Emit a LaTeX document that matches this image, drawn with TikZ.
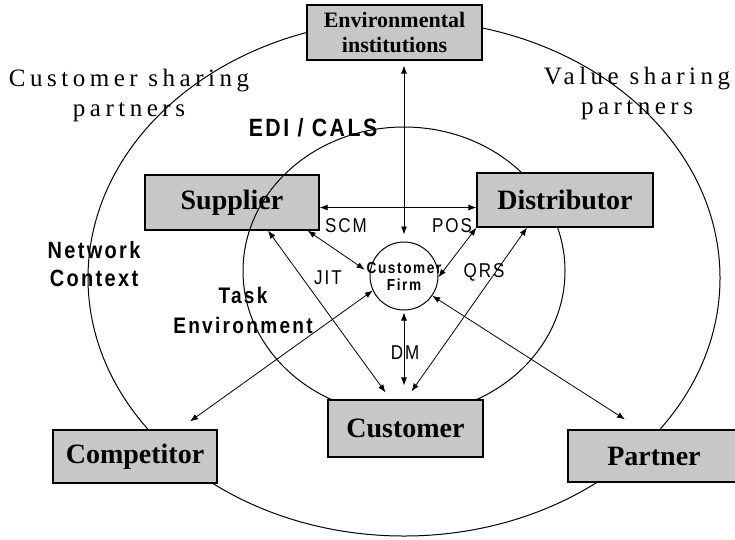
\documentclass[tikz,border=0pt]{standalone}
\usepackage{fontspec}
\setmainfont{Liberation Serif}
\newfontfamily\narrowfont[FakeStretch=0.85,LetterSpace=10]{Liberation Sans}
\newfontfamily\sparsefont[LetterSpace=18]{Liberation Serif}
\usetikzlibrary{arrows.meta}

\tikzset{
	box/.style={draw, line width=1.2pt, fill=black!22, inner sep=0pt, font=\bfseries\fontsize{28}{30}\selectfont},
	link/.style={{Latex[length=8pt,width=6pt]}-{Latex[length=8pt,width=6pt]}, line width=0.8pt},
	ring/.style={line width=1pt},
	zone/.style={align=center, font=\narrowfont\bfseries\fontsize{23.5}{28}\selectfont},
	tag/.style={font=\narrowfont\fontsize{20}{22}\selectfont},
	share/.style={align=center, font=\sparsefont\fontsize{25}{30}\selectfont}
}

\begin{document}
\begin{tikzpicture}[x=1pt,y=-1pt]
	\useasboundingbox (0,0) rectangle (735,539);
	
	% supplier sits under the inner ring
	\node[box, minimum width=174pt, minimum height=55pt] (sup) at (232,202.5) {Supplier};
	
	\draw[ring] (404,278) ellipse [x radius=316pt, y radius=258pt];
	\draw[ring] (404,271) ellipse [x radius=161pt, y radius=144pt];
	
	\node[box, minimum width=175pt, minimum height=55pt, align=center, font=\bfseries\fontsize{22}{25}\selectfont] (env) at (394.5,32.5) {Environmental\\institutions};
	\node[box, minimum width=176pt, minimum height=54pt] (dis) at (565,200) {Distributor};
	\node[box, minimum width=155pt, minimum height=57pt] (cust) at (405.5,428.5) {Customer};
	\node[box, minimum width=164pt, minimum height=53pt] (comp) at (135,456.5) {Competitor};
	\node[box, minimum width=172pt, minimum height=52pt] (part) at (654,456) {Partner};
	
	\node[draw, circle, line width=1pt, minimum size=68pt, inner sep=0pt] (firm) at (404,276) {};
	\node[align=center, font=\narrowfont\bfseries\fontsize{16}{17}\selectfont] (firmtext) at (firm) {Customer\\Firm};
	
	% labels
	\node[share] (csp) at (129,95) {Customer sharing\\partners};
	\node[share] (vsp) at (637,93) {Value sharing\\partners};
	\node[zone, font=\narrowfont\bfseries\fontsize{25}{28}\selectfont] (edi) at (313,128) {EDI / CALS};
	\node[zone] (net) at (94,264) {Network\\Context};
	\node[zone, font=\narrowfont\bfseries\fontsize{22.5}{30}\selectfont] (task) at (243,310) {Task\\Environment};
	\node[tag] (scm) at (346,226) {SCM};
	\node[tag] (pos) at (452,226) {POS};
	\node[tag] (jit) at (328,278) {JIT};
	\node[tag] (qrs) at (484,272) {QRS};
	\node[tag] (dm) at (405,353) {DM};
	
	% links
	\draw[link, shorten <=5pt, shorten >=7pt] (firm.north |- env.south) -- (firm.north);
	\draw[link] ([yshift=-5pt]sup.east) -- ([yshift=-5pt]sup.east -| dis.west);
	\draw[link, shorten >=6pt] ([xshift=-12pt]sup.south east) -- (firm.175);
	\draw[link] ([xshift=36pt]sup.south) -- ([xshift=-20pt,yshift=7pt]cust.north);
	\draw[link] (dis.south west) -- (firm.358);
	\draw[link] ([xshift=-38pt]dis.south) -- ([xshift=6pt,yshift=8pt]cust.north);
	\draw[link, shorten <=2pt, shorten >=14pt] (firm.south) -- (firm.south |- cust.north);
	\draw[link] (firm.205) -- ([xshift=55pt,yshift=8pt]comp.north);
	\draw[link] (firm.325) -- ([xshift=-29pt,yshift=10pt]part.north);
\end{tikzpicture}
\end{document}
